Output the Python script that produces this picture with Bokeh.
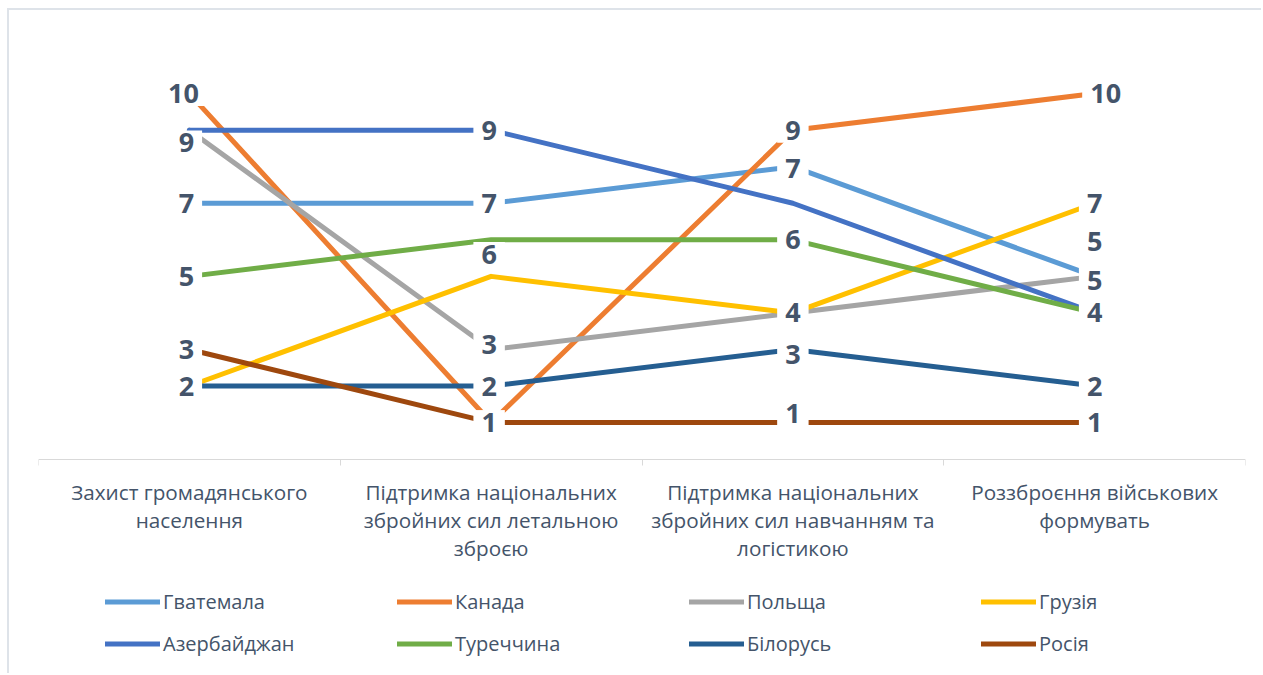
from bokeh.plotting import figure
from bokeh.models import ColumnDataSource, Legend, LegendItem, FixedTicker, Range1d
from bokeh.embed import file_html
from bokeh.resources import INLINE
from bokeh.core.properties import value

# ---------------- data ----------------
categories = [
    "Захист громадянського\nнаселення",
    "Підтримка національних\nзбройних сил летальною\nзброєю",
    "Підтримка національних\nзбройних сил навчанням та\nлогістикою",
    "Роззброєння військових\nформувать",
]

series_names = ["Гватемала", "Канада", "Польща", "Грузія",
                "Азербайджан", "Туреччина", "Білорусь", "Росія"]

guatemala = [7, 7, 8, 5]
canada = [10, 1, 9, 10]
poland = [9, 3, 4, 5]
georgia = [2, 5, 4, 7]
azerbaijan = [9, 9, 7, 4]
turkey = [5, 6, 6, 4]
belarus = [2, 2, 3, 2]
russia = [3, 1, 1, 1]

# data labels as shown on the chart ("" = label not visible)
guatemala_lbl = ["7", "7", "", "5"]
canada_lbl = ["10", "", "9", "10"]
poland_lbl = ["9", "3", "", "5"]
georgia_lbl = ["", "", "4", "7"]
azerbaijan_lbl = ["", "9", "7", ""]
turkey_lbl = ["5", "6", "6", "4"]
belarus_lbl = ["2", "2", "3", "2"]
russia_lbl = ["3", "1", "1", "1"]

series_values = [guatemala, canada, poland, georgia, azerbaijan, turkey, belarus, russia]
series_labels = [guatemala_lbl, canada_lbl, poland_lbl, georgia_lbl,
                 azerbaijan_lbl, turkey_lbl, belarus_lbl, russia_lbl]

# ---------------- styles ----------------
colors = ["#5B9BD5", "#ED7D31", "#A5A5A5", "#FFC000",
          "#4472C4", "#70AD47", "#255E91", "#9E480E"]
TEXT = "#44546A"
FONT = "Open Sans"

# manual label placement tweaks (data units / screen px), as moved on the original
label_dy = {("Польща", 0): -0.35, ("Польща", 1): 0.13, ("Польща", 3): -0.1,
            ("Туреччина", 1): -0.4, ("Азербайджан", 2): 0.95,
            ("Гватемала", 3): 0.96, ("Росія", 2): 0.25, ("Білорусь", 2): -0.13}
label_dx = {("Канада", 0): -3, ("Канада", 3): 11}
cat_dx = [-3, -2, 0, 0]

x_pos = [i + 0.5 for i in range(len(categories))]

# value axis runs 0..12; the lower part of the frame hosts category labels and legend
p = figure(width=1254, height=665, x_range=Range1d(0, len(categories)), y_range=Range1d(-5.92, 12),
           output_backend="svg", toolbar_location=None, y_axis_location=None,
           min_border_left=29, min_border_right=18, min_border_top=10, min_border_bottom=0)
p.styles = {"margin-left": "7px", "margin-top": "8px",
            "border-top": "2px solid #DEE3E9", "border-left": "2px solid #DEE3E9"}
p.xgrid.visible = False
p.ygrid.visible = False
p.outline_line_color = None
p.background_fill_color = "white"
p.border_fill_color = "white"

renderers = []
for name, vals, col in zip(series_names, series_values, colors):
    r = p.line(x_pos, vals, line_color=col, line_width=5, line_join="round", line_cap="round")
    renderers.append(r)

lx, ly, lt, ldx = [], [], [], []
for name, vals, lbls in zip(series_names, series_values, series_labels):
    for j, (v, t) in enumerate(zip(vals, lbls)):
        if t:
            lx.append(x_pos[j])
            ly.append(v + label_dy.get((name, j), 0))
            lt.append(t)
            ldx.append(cat_dx[j] + label_dx.get((name, j), 0))
src = ColumnDataSource(dict(x=lx, y=ly, text=lt, dx=ldx))
p.text(x="x", y="y", text="text", x_offset="dx", source=src,
       text_align="center", text_baseline="middle",
       text_font=value(FONT), text_font_style="bold", text_font_size="27px",
       text_color=TEXT, background_fill_color="white", padding=[8, 3])

ax = p.xaxis[0]
ax.fixed_location = 0
ax.ticker = FixedTicker(ticks=x_pos, minor_ticks=list(range(len(categories) + 1)))
ax.major_label_overrides = {x: c for x, c in zip(x_pos, categories)}
ax.axis_line_color = "#D9D9D9"
ax.axis_line_width = 1
ax.major_tick_line_color = None
ax.major_tick_out = 0
ax.major_tick_in = 0
ax.minor_tick_line_color = "#D9D9D9"
ax.minor_tick_out = 6
ax.minor_tick_in = 0
ax.major_label_standoff = 13
ax.major_label_text_font = FONT
ax.major_label_text_font_size = "20.7px"
ax.major_label_text_color = TEXT
ax.major_label_text_line_height = 1.0

items = [LegendItem(label=n, renderers=[r]) for n, r in zip(series_names, renderers)]
legend = Legend(items=items, location=(67, 18), orientation="horizontal", ncols=4,
                glyph_width=55, glyph_height=27, label_width=219, label_height=27,
                label_standoff=3, spacing=15, padding=0, margin=0,
                border_line_color=None, background_fill_alpha=0,
                label_text_font=FONT, label_text_font_size="20px", label_text_color=TEXT)
p.add_layout(legend)

open("out.html", "w").write(file_html(p, INLINE))
